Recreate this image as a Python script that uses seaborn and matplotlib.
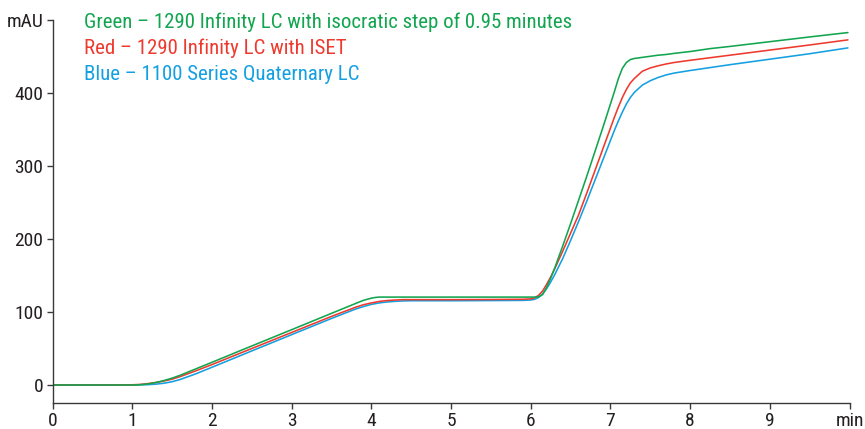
import matplotlib
matplotlib.use("Agg")
import matplotlib.pyplot as plt
import numpy as np
import pandas as pd
import seaborn as sns

# Retention time grid (min)
time_min = [0, 0.5, 1.0, 1.1, 1.2, 1.3, 1.4, 1.5, 1.6, 1.8, 2.0, 2.5, 3.0, 3.5,
            3.8, 3.9, 4.0, 4.05, 4.1, 4.15, 4.2, 4.3, 4.4, 4.5, 4.6, 5.0, 5.5,
            5.9, 6.0, 6.05, 6.1, 6.15, 6.2, 6.25, 6.3, 6.4, 6.5, 6.6, 6.7, 6.8,
            6.9, 7.0, 7.05, 7.1, 7.15, 7.2, 7.25, 7.3, 7.4, 7.5, 7.6, 7.7, 7.8,
            8.0, 8.25, 8.5, 9.0, 9.5, 9.98]

# Absorbance (mAU) for each system
green_1290_iso = [0, 0, 0, 0.4, 1.5, 3.5, 6.2, 9.4, 13.3, 22.2, 31.1, 53.5, 75.8, 98.2,
                  111.6, 116, 119, 120, 120.5, 120.5, 120.5, 120.5, 120.5, 120.5, 120.5, 120.5, 120.5,
                  120.5, 120.5, 120.5, 121, 124, 134, 146, 160, 190, 221, 253, 285, 318,
                  351, 385, 402, 420, 434, 442, 446, 447.5, 449, 450.5, 452, 453, 454.5,
                  457, 461, 464, 470.5, 477, 483]

red_1290_iset = [0, 0, 0.3, 0.8, 2, 3.5, 5.5, 8, 11.5, 19.5, 28, 50, 72, 94,
                 106.5, 110, 112.5, 113.5, 114.5, 115.2, 115.8, 116.5, 117, 117, 117, 117, 117.2,
                 117.5, 118, 119.5, 123, 129, 138, 148, 159, 183, 208, 233, 262, 292,
                 322, 352, 367, 381, 394, 405, 414, 420, 430, 434.5, 437.5, 440, 442,
                 445, 448.5, 452, 459, 466, 473]

blue_1100_quat = [0, 0, 0, 0.2, 0.5, 1.2, 2.5, 4.5, 7.5, 15.4, 24.3, 46.7, 69, 91.2,
                  104, 107.5, 110.5, 111.5, 112.5, 113.2, 113.8, 114.7, 115.2, 115.5, 115.5, 115.5, 115.7,
                  116, 116.5, 117.5, 120, 125, 132, 141, 151, 173, 198, 224, 251, 279,
                  307, 335, 349, 362, 374, 385, 394, 401, 411, 417, 421.5, 425, 427.5,
                  431, 435, 439, 446.5, 454, 462]

x_ticks = [0, 1, 2, 3, 4, 5, 6, 7, 8, 9, 10]
x_tick_labels = ["0", "1", "2", "3", "4", "5", "6", "7", "8", "9", "min"]
y_ticks = [0, 100, 200, 300, 400, 500]
y_tick_labels = ["0", "100", "200", "300", "400", "mAU"]

series_names = ["Blue", "Red", "Green"]
legend_lines = [
    ("Green \u2013 1290 Infinity LC with isocratic step of 0.95 minutes", "Green"),
    ("Red \u2013 1290 Infinity LC with ISET", "Red"),
    ("Blue \u2013 1100 Series Quaternary LC", "Blue"),
]
colors = {"Green": "#12a54f", "Red": "#ee3a2e", "Blue": "#14a0e0"}

df = pd.concat([
    pd.DataFrame({"time": time_min, "mAU": blue_1100_quat, "system": "Blue"}),
    pd.DataFrame({"time": time_min, "mAU": red_1290_iset, "system": "Red"}),
    pd.DataFrame({"time": time_min, "mAU": green_1290_iso, "system": "Green"}),
], ignore_index=True)

sns.set_theme(style="ticks")
plt.rcParams["font.family"] = ["Roboto Condensed", "Roboto", "DejaVu Sans"]

fig = plt.figure(figsize=(8.65, 4.29), dpi=100)
ax = fig.add_axes([0.0607, 0.06, 0.9214, 0.893])

sns.lineplot(data=df, x="time", y="mAU", hue="system", hue_order=series_names,
             palette=colors, linewidth=1.15, legend=False, ax=ax, sort=False)

ax.set_xlim(0, 10)
ax.set_ylim(-25, 500)
ax.set_xticks(x_ticks)
ax.set_xticklabels(x_tick_labels)
ax.set_yticks(y_ticks)
ax.set_yticklabels(y_tick_labels)
ax.set_xlabel("")
ax.set_ylabel("")

for side in ["top", "right"]:
    ax.spines[side].set_visible(False)
for side in ["left", "bottom"]:
    ax.spines[side].set_color("#3a3a3a")
    ax.spines[side].set_linewidth(1.0)
ax.tick_params(axis="both", length=4, width=1.0, color="#3a3a3a",
               labelsize=14, labelcolor="#231f20", pad=2.5)

y0 = 0.995
for i, (txt, key) in enumerate(legend_lines):
    ax.text(0.04, y0 - i * 0.068, txt, transform=ax.transAxes, color=colors[key],
            fontsize=15, ha="left", va="center")

fig.savefig("out.png", dpi=100)
